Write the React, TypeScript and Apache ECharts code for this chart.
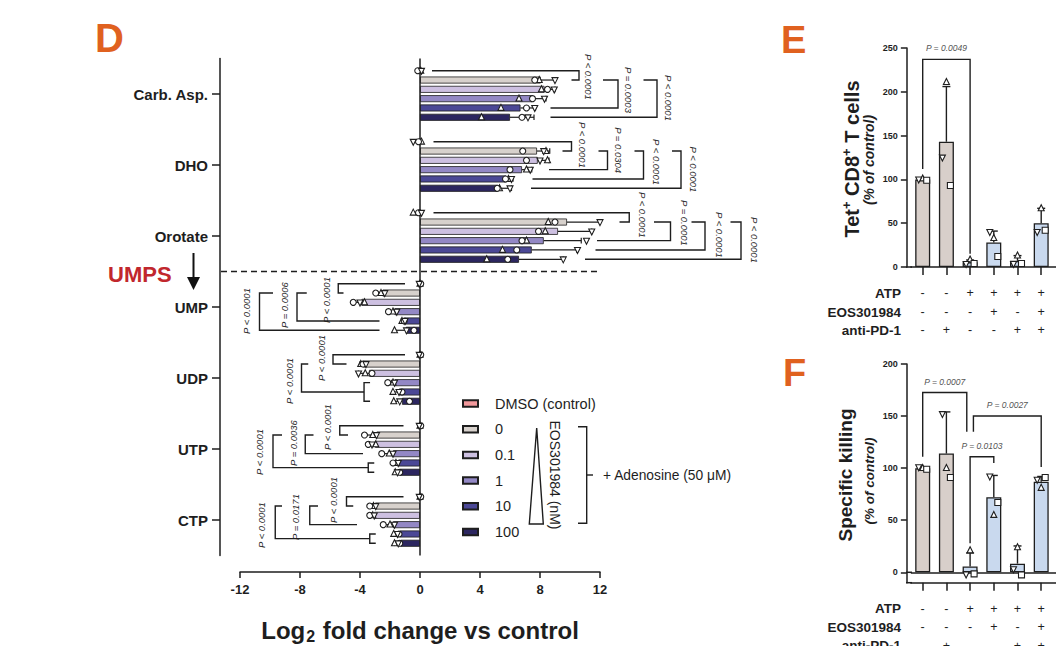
import React, { useEffect, useRef } from 'react';
import * as echarts from 'echarts';

const FONT = '"Liberation Sans", Arial, Helvetica, sans-serif';
const INK = '#1e1e1e';
const ORANGE = '#e0611f';

// ---------------- Panel D: data ----------------
const metabolites = ['Carb. Asp.', 'DHO', 'Orotate', 'UMP', 'UDP', 'UTP', 'CTP'];
const treatments = ['DMSO (control)', '0', '0.1', '1', '10', '100'];
const treatmentColors = ['#f2999c', '#d7d1cc', '#cdc0e1', '#9388c5', '#4b4896', '#2c2660'];

// mean log2 fold change (bar length), one value per metabolite
const meanDMSO = [0, 0, 0, 0, 0, 0, 0];
const mean0 = [8.05, 7.8, 9.8, -2.5, -3.8, -2.9, -3.0];
const mean01 = [8.3, 7.85, 9.2, -3.9, -3.4, -3.0, -3.05];
const mean1 = [7.5, 6.8, 8.25, -1.7, -1.7, -1.8, -1.8];
const mean10 = [6.7, 5.75, 7.45, -1.05, -1.4, -1.45, -1.35];
const mean100 = [6.0, 5.2, 6.6, -0.95, -1.2, -1.35, -1.3];

// SD (error bar length), one value per metabolite
const sdDMSO = [0, 0, 0, 0, 0, 0, 0];
const sd0 = [0.95, 0.85, 2.2, 0.45, 0.2, 0.8, 0.35];
const sd01 = [0.7, 0.75, 2.25, 0.55, 0.7, 0.45, 0.3];
const sd1 = [0.9, 0.65, 2.5, 0.4, 0.45, 0.75, 0.65];
const sd10 = [1.0, 0.45, 3.0, 0.2, 0.4, 0.35, 0.4];
const sd100 = [1.6, 0.9, 2.95, 0.75, 0.55, 0.3, 0.4];

// replicate points per treatment row: [triangle, circle, triangle-down]
const ptsCarbAsp = [[0.05, -0.15, 0.1], [7.95, 7.65, 9.0], [8.1, 8.5, 8.95], [6.6, 7.5, 8.3], [5.4, 7.1, 7.65], [4.1, 6.8, 7.2]];
const ptsDHO = [[0.1, -0.1, -0.45], [8.4, 6.85, 8.25], [8.5, 7.1, 8.0], [7.1, 6.0, 7.35], [5.9, 5.7, 6.1], [5.3, 5.15, 6.0]];
const ptsOrotate = [[-0.45, -0.1, 0.1], [8.55, 9.0, 12.0], [8.35, 7.9, 11.45], [7.1, 6.8, 11.1], [5.5, 6.45, 10.5], [4.45, 5.85, 9.55]];
const ptsUMP = [[0, 0.05, -0.05], [-2.6, -2.95, -2.35], [-3.7, -4.45, -4.0], [-1.8, -2.1, -1.55], [-1.2, -1.05, -1.0], [-1.7, -0.4, -0.9]];
const ptsUDP = [[0, 0.05, -0.05], [-3.95, -3.8, -3.6], [-3.65, -3.2, -4.1], [-1.8, -2.15, -1.7], [-1.8, -1.2, -1.4], [-1.75, -0.7, -1.35]];
const ptsUTP = [[0, 0.05, -0.05], [-3.15, -3.7, -2.9], [-2.95, -3.45, -3.2], [-2.05, -2.55, -1.8], [-1.6, -1.8, -1.45], [-1.65, -1.35, -1.5]];
const ptsCTP = [[0, 0.05, -0.05], [-3.1, -3.35, -2.95], [-3.15, -3.35, -3.05], [-2.0, -2.45, -1.7], [-1.75, -1.4, -1.5], [-1.7, -1.35, -1.45]];

const xTicksD = [-12, -8, -4, 0, 4, 8, 12];

// significance brackets:
// [metabolite, rowFrom, rowTo, lineStartFrom, lineStartTo, bracketX, labelX, labelRow, label, subFrom, subTo]
const dBrackets: any[] = [
  [0, 0, 1, 0.8, 10.1, 10.6, 11.25, 0.67, 'P < 0.0001', null, null],
  [0, 1, 4, 12.2, 8.7, 13.2, 13.9, 2.07, 'P = 0.0003', null, null],
  [0, 1, 5, 14.9, 8.7, 15.8, 16.55, 2.93, 'P < 0.0001', null, null],
  [1, 0, 1, 0.9, 9.5, 10.1, 10.8, 0.35, 'P < 0.0001', null, null],
  [1, 1, 3, 11.9, 8.6, 12.5, 13.2, 0.9, 'P = 0.0304', null, null],
  [1, 1, 4, 14.3, 7.5, 14.9, 15.75, 2.18, 'P < 0.0001', null, null],
  [1, 1, 5, 16.8, 7.4, 17.4, 18.25, 2.98, 'P < 0.0001', null, null],
  [2, 0, 1, 0.9, 13.3, 13.95, 14.85, 0.24, 'P < 0.0001', null, null],
  [2, 1, 3, 15.6, 11.8, 16.7, 17.6, 1.1, 'P = 0.0001', null, null],
  [2, 1, 4, 18.1, 11.7, 19.0, 19.95, 2.39, 'P < 0.0001', null, null],
  [2, 1, 5, 20.7, 11.0, 21.4, 22.3, 2.93, 'P < 0.0001', null, null],
  [3, 0, 1, -1.0, -5.1, -5.45, -6.25, 1.75, 'P < 0.0001', null, null],
  [3, 1, 4, -7.55, -2.7, -8.2, -9.05, 2.29, 'P = 0.0006', null, null],
  [3, 1, 5, -9.8, -2.7, -10.7, -11.55, 2.93, 'P < 0.0001', null, null],
  [4, 0, 1, -1.0, -4.9, -5.8, -6.6, 0.35, 'P < 0.0001', null, null],
  [4, 1, 4, -7.45, -3.73, -7.9, -8.7, 2.82, 'P < 0.0001', 3, 5],
  [5, 0, 1, -1.1, -4.8, -5.35, -6.2, 0.14, 'P < 0.0001', null, null],
  [5, 1, 3, -7.1, -3.8, -7.65, -8.45, 1.86, 'P = 0.0036', null, null],
  [5, 1, 5, -9.2, -3.45, -9.8, -10.7, 2.82, 'P < 0.0001', 4, 5],
  [6, 0, 1, -1.1, -4.45, -4.9, -5.8, 0.35, 'P < 0.0001', null, null],
  [6, 1, 3, -6.8, -4.2, -7.35, -8.3, 2.18, 'P = 0.0171', null, null],
  [6, 1, 5, -9.2, -3.35, -9.65, -10.6, 3.04, 'P < 0.0001', 4, 5],
];

// ---------------- Panels E / F: data ----------------
const atpRow = ['-', '-', '+', '+', '+', '+'];
const eosRow = ['-', '-', '-', '+', '-', '+'];
const pd1Row = ['-', '+', '-', '-', '+', '+'];
const efColumns = ['c1', 'c2', 'c3', 'c4', 'c5', 'c6', 'c7']; // 7th column cropped by the frame

const eMeans = [100, 143, 5.5, 28, 7, 50];
const eSD = [1.2, 63, 2.5, 13, 6, 17];
const ePoints = [[101, 100, 99], [211, 125, 93], [8.5, 3.5, 4], [33, 40, 12], [13, 3.5, 4], [67, 40, 42]];
const eTicks = [0, 50, 100, 150, 200, 250];
// [fromCol, toCol, topValue, leftEnd, rightEnd, label, leftShift, rightShift]
const eBrackets: any[] = [[0, 2, 237, 112, 15, 'P = 0.0049', 0, 0]];

const fMeans = [100, 114, 5.5, 72, 8.3, 87];
const fSD = [1.2, 40, 13, 21, 17, 5];
const fPoints = [[100, 101, 99], [100, 152, 91], [21, -2, -1.5], [55, 92, 67], [24, 3, -2.5], [81, 89, 91]];
const fTicks = [0, 50, 100, 150, 200];
const fBrackets: any[] = [
  [0, 2, 172.6, 111, 135, 'P = 0.0007', 0, -0.14],
  [2, 5, 150, 135, 101, 'P = 0.0027', 0.14, 0],
  [2, 3, 111, 28, 105, 'P = 0.0103', 0, 0],
];

// ---------------- layout constants ----------------
const BAR_W = 7;
const BAR_GAP = 0.33;
const SUB_TICK = 0.4;
const D_SHAPES = ['triangle', 'circle', 'triangle-down'];
const EF_SHAPES = ['triangle', 'triangle-down', 'square'];
const EF_JITTER = [0, -4, 4];

const meansByTreatment = [meanDMSO, mean0, mean01, mean1, mean10, mean100];
const sdsByTreatment = [sdDMSO, sd0, sd01, sd1, sd10, sd100];
const pointsByMetabolite = [ptsCarbAsp, ptsDHO, ptsOrotate, ptsUMP, ptsUDP, ptsUTP, ptsCTP];

function rowY(api: any, met: number, row: number) {
  const n = treatments.length;
  const widthSum = n * BAR_W + (n - 1) * BAR_W * BAR_GAP;
  const c = api.coord([0, met]);
  return c[1] - widthSum / 2 + row * BAR_W * (1 + BAR_GAP) + BAR_W / 2;
}

function marker(shape: string, x: number, y: number, s: number) {
  const st = { fill: '#ffffff', stroke: INK, lineWidth: 1.1 };
  if (shape === 'circle') return { type: 'circle', shape: { cx: x, cy: y, r: s / 2 }, style: st };
  if (shape === 'square') return { type: 'rect', shape: { x: x - s / 2, y: y - s / 2, width: s, height: s }, style: st };
  if (shape === 'triangle')
    return { type: 'polygon', shape: { points: [[x, y - s * 0.6], [x - s / 2, y + s * 0.4], [x + s / 2, y + s * 0.4]] }, style: st };
  return { type: 'polygon', shape: { points: [[x, y + s * 0.6], [x - s / 2, y - s * 0.4], [x + s / 2, y - s * 0.4]] }, style: st };
}

const lineSt = { stroke: INK, lineWidth: 1.4, fill: 'none', lineJoin: 'miter' };

function pText(x: number, y: number, text: string, rotation: number, size: number, color: string) {
  return {
    type: 'text',
    x,
    y,
    rotation,
    style: {
      text,
      fontFamily: FONT,
      fontSize: size,
      fontStyle: 'italic',
      fill: color,
      align: 'center',
      verticalAlign: 'middle',
    },
  };
}

function renderDPoints(params: any, api: any) {
  const idx = params.dataIndex;
  const m = Math.floor(idx / treatments.length);
  const t = idx % treatments.length;
  const mean = meansByTreatment[t][m];
  const sd = sdsByTreatment[t][m];
  const pts = pointsByMetabolite[m][t];
  const y = rowY(api, m, t);
  const X = (v: number) => api.coord([v, m])[0];
  const children: any[] = [];
  if (sd > 0) {
    const end = mean + (mean >= 0 ? sd : -sd);
    children.push({ type: 'line', shape: { x1: X(mean), y1: y, x2: X(end), y2: y }, style: { stroke: INK, lineWidth: 1.2 } });
    children.push({ type: 'line', shape: { x1: X(end), y1: y - 2.8, x2: X(end), y2: y + 2.8 }, style: { stroke: INK, lineWidth: 1.2 } });
  }
  pts.forEach((v: number, k: number) => children.push(marker(D_SHAPES[k], X(v), y, 6)));
  return { type: 'group', children };
}

function renderDBracket(params: any, api: any) {
  const [m, rA, rB, xa, xb, xv, lx, lr, text, sF, sT] = dBrackets[params.dataIndex];
  const X = (v: number) => api.coord([v, m])[0];
  const Y = (r: number) => rowY(api, m, r);
  const yA = Y(rA);
  const yB = sF != null ? Y((sF + sT) / 2) : Y(rB);
  const children: any[] = [
    { type: 'polyline', shape: { points: [[X(xa), yA], [X(xv), yA], [X(xv), yB], [X(xb), yB]] }, style: lineSt },
    pText(X(lx), Y(lr), text, xv > 0 ? -Math.PI / 2 : Math.PI / 2, 9.5, '#2a2a2a'),
  ];
  if (sF != null) {
    const dir = xv < 0 ? 1 : -1;
    children.push({
      type: 'polyline',
      shape: { points: [[X(xb + dir * SUB_TICK), Y(sF)], [X(xb), Y(sF)], [X(xb), Y(sT)], [X(xb + dir * SUB_TICK), Y(sT)]] },
      style: lineSt,
    });
  }
  return { type: 'group', children };
}

function makeEFPoints(means: number[], sds: number[], points: number[][]) {
  return (params: any, api: any) => {
    const i = params.dataIndex;
    const mean = means[i];
    const top = api.coord([i, mean + sds[i]]);
    const base = api.coord([i, mean]);
    const children: any[] = [
      { type: 'line', shape: { x1: base[0], y1: base[1], x2: top[0], y2: top[1] }, style: { stroke: INK, lineWidth: 1.4 } },
      { type: 'line', shape: { x1: top[0] - 4, y1: top[1], x2: top[0] + 4, y2: top[1] }, style: { stroke: INK, lineWidth: 1.4 } },
    ];
    points[i].forEach((v: number, k: number) => {
      const p = api.coord([i, v]);
      children.push(marker(EF_SHAPES[k], p[0] + EF_JITTER[k], p[1], 6));
    });
    return { type: 'group', children };
  };
}

function makeEFBrackets(brackets: any[]) {
  return (params: any, api: any) => {
    const [c1, c2, topV, lEnd, rEnd, text, ls, rs] = brackets[params.dataIndex];
    const band = api.size([1, 0])[0];
    const xl = api.coord([c1, topV])[0] + ls * band;
    const xr = api.coord([c2, topV])[0] + rs * band;
    const yt = api.coord([c1, topV])[1];
    const yl = api.coord([c1, lEnd])[1];
    const yr = api.coord([c2, rEnd])[1];
    return {
      type: 'group',
      children: [
        { type: 'polyline', shape: { points: [[xl, yl], [xl, yt], [xr, yt], [xr, yr]] }, style: lineSt },
        pText((xl + xr) / 2, yt - 11, text, 0, 8.5, '#555555'),
      ],
    };
  };
}

function txt(x: number, y: number, text: string, style: any, rotation = 0) {
  return {
    type: 'text',
    x,
    y,
    rotation,
    style: { text, fontFamily: FONT, fill: INK, align: 'left', verticalAlign: 'middle', ...style },
  };
}

function buildOption() {
  const axisLine = { show: true, onZero: false, lineStyle: { color: INK, width: 1.5 } };
  const tickLine = { color: INK, width: 1.5 };
  const efLabelFormatter = (_v: any, i: number) => (i < atpRow.length ? [atpRow[i], eosRow[i], pd1Row[i]].join('\n') : '');

  const efXAxis = (gridIndex: number) => ({
    gridIndex,
    type: 'category',
    data: efColumns,
    axisLine,
    axisTick: { show: true, alignWithLabel: true, length: 8, interval: 0, lineStyle: tickLine },
    axisLabel: { interval: 0, formatter: efLabelFormatter, fontFamily: FONT, fontSize: 12.5, lineHeight: 18.7, color: INK, margin: 16.6 },
    splitLine: { show: false },
  });

  const efBarColor = (i: number) => (atpRow[i] === '+' ? '#c9d9ee' : '#d8cfca');

  const dBarSeries = treatments.map((name, t) => ({
    name,
    type: 'bar',
    xAxisIndex: 0,
    yAxisIndex: 0,
    data: meansByTreatment[t],
    barWidth: BAR_W,
    barGap: `${BAR_GAP * 100}%`,
    itemStyle: { color: treatmentColors[t], borderColor: INK, borderWidth: 0.8 },
    z: 2,
    ...(t === 0
      ? {
          markLine: {
            silent: true,
            symbol: ['none', 'none'],
            label: { show: false },
            lineStyle: { color: INK, width: 1.5, type: 'solid' },
            data: [{ xAxis: 0 }],
          },
        }
      : {}),
  }));

  const dPointData: any[] = [];
  metabolites.forEach((_, m) => treatments.forEach((__, t) => dPointData.push([meansByTreatment[t][m], m])));

  const graphic: any[] = [
    txt(95, 38, 'D', { fontSize: 40, fontWeight: 'bold', fill: ORANGE }),
    txt(781, 40, 'E', { fontSize: 38, fontWeight: 'bold', fill: ORANGE }),
    txt(783, 373, 'F', { fontSize: 38, fontWeight: 'bold', fill: ORANGE }),
    txt(108, 274, 'UMPS', { fontSize: 22, fontWeight: 'bold', fill: '#c1272d' }),
    { type: 'line', shape: { x1: 193.5, y1: 253, x2: 193.5, y2: 279 }, style: { stroke: '#111', lineWidth: 2 } },
    { type: 'polygon', shape: { points: [[187, 277], [200, 277], [193.5, 290]] }, style: { fill: '#111' } },
    { type: 'line', shape: { x1: 221, y1: 271.5, x2: 601, y2: 271.5 }, style: { stroke: INK, lineWidth: 1.5, lineDash: [6, 4] } },
    {
      type: 'text',
      x: 420,
      y: 630,
      style: {
        text: '{a|Log}{s|2}{a| fold change vs control}',
        fontFamily: FONT,
        fill: INK,
        align: 'center',
        verticalAlign: 'middle',
        rich: {
          a: { fontSize: 24, fontWeight: 'bold', fill: INK, color: INK, fontFamily: FONT },
          s: { fontSize: 16, fontWeight: 'bold', fill: INK, color: INK, fontFamily: FONT, padding: [13, 1, 0, 1] },
        },
      },
    },
    // legend annotation: wedge, bracket, texts
    { type: 'polygon', shape: { points: [[536.7, 428], [529.3, 524], [543.3, 524]] }, style: { fill: 'none', stroke: INK, lineWidth: 1.4 } },
    txt(555, 475, 'EOS301984 (nM)', { fontSize: 14, align: 'center' }, -Math.PI / 2),
    {
      type: 'polyline',
      shape: { points: [[578, 426.7], [586.7, 426.7], [586.7, 523.3], [578, 523.3]] },
      style: { stroke: INK, lineWidth: 1.4, fill: 'none' },
    },
    { type: 'line', shape: { x1: 586.7, y1: 475, x2: 593, y2: 475 }, style: { stroke: INK, lineWidth: 1.4 } },
    txt(603, 475, '+ Adenosine (50 μM)', { fontSize: 13.8 }),
    // E / F axis titles
    {
      type: 'text',
      x: 851.5,
      y: 159,
      rotation: Math.PI / 2,
      style: {
        text: '{b|Tet}{s|+}{b| CD8}{s|+}{b| T cells}',
        fontFamily: FONT,
        fill: INK,
        align: 'center',
        verticalAlign: 'middle',
        rich: {
          b: { fontSize: 20, fontWeight: 'bold', fill: INK, color: INK, fontFamily: FONT },
          s: { fontSize: 13, fontWeight: 'bold', fill: INK, color: INK, fontFamily: FONT, padding: [0, 0, 11, 0] },
        },
      },
    },
    txt(869, 160, '(% of control)', { fontSize: 14, fontWeight: 'bold', fontStyle: 'italic', align: 'center' }, Math.PI / 2),
    txt(845, 475, 'Specific killing', { fontSize: 19, fontWeight: 'bold', align: 'center' }, Math.PI / 2),
    txt(869, 481, '(% of control)', { fontSize: 13.5, fontWeight: 'bold', fontStyle: 'italic', align: 'center' }, Math.PI / 2),
    // corner patches joining offset y-axis with x-axis / zero line
    { type: 'line', shape: { x1: 906, y1: 267, x2: 912, y2: 267 }, style: { stroke: INK, lineWidth: 1.5 } },
    { type: 'line', shape: { x1: 906, y1: 582.7, x2: 912, y2: 582.7 }, style: { stroke: INK, lineWidth: 1.5 } },
    { type: 'line', shape: { x1: 906, y1: 572.3, x2: 912, y2: 572.3 }, style: { stroke: INK, lineWidth: 1.5 } },
  ];
  const rowNames = ['ATP', 'EOS301984', 'anti-PD-1'];
  [293.3, 608.3].forEach((y0) =>
    rowNames.forEach((n, k) => graphic.push(txt(901, y0 + k * 18.7, n, { fontSize: 13.5, fontWeight: 'bold', align: 'right' })))
  );

  return {
    animation: false,
    backgroundColor: '#ffffff',
    textStyle: { fontFamily: FONT },
    legend: {
      data: treatments,
      orient: 'vertical',
      left: 457,
      top: 391,
      icon: 'rect',
      itemWidth: 15,
      itemHeight: 6.5,
      itemGap: 10.7,
      selectedMode: false,
      textStyle: { fontFamily: FONT, fontSize: 14.5, color: INK, lineHeight: 14, padding: [0, 0, 0, 12] },
    },
    grid: [
      { left: 240, top: 58.5, width: 360, height: 497, containLabel: false, outerBoundsMode: 'none' },
      { left: 910.85, top: 48, width: 165.9, height: 219, containLabel: false, outerBoundsMode: 'none' },
      { left: 910.85, top: 364, width: 165.9, height: 218.7, containLabel: false, outerBoundsMode: 'none' },
    ],
    xAxis: [
      {
        gridIndex: 0,
        type: 'value',
        min: xTicksD[0],
        max: xTicksD[xTicksD.length - 1],
        interval: 4,
        offset: 16.5,
        axisLine,
        axisTick: { show: true, length: 6, lineStyle: tickLine },
        axisLabel: { fontFamily: FONT, fontSize: 13, fontWeight: 'bold', color: INK, margin: 11 },
        splitLine: { show: false },
      },
      efXAxis(1),
      efXAxis(2),
    ],
    yAxis: [
      {
        gridIndex: 0,
        type: 'category',
        data: metabolites,
        inverse: true,
        offset: 20,
        axisLine,
        axisTick: { show: true, alignWithLabel: true, length: 8, interval: 0, lineStyle: tickLine },
        axisLabel: { interval: 0, fontFamily: FONT, fontSize: 15, fontWeight: 'bold', color: INK, margin: 12 },
        splitLine: { show: false },
      },
      {
        gridIndex: 1,
        type: 'value',
        min: eTicks[0],
        max: eTicks[eTicks.length - 1],
        interval: 50,
        offset: 4,
        axisLine,
        axisTick: { show: true, length: 6, lineStyle: tickLine },
        axisLabel: { fontFamily: FONT, fontSize: 9, fontWeight: 'bold', color: INK, margin: 9 },
        splitLine: { show: false },
      },
      {
        gridIndex: 2,
        type: 'value',
        min: -10,
        max: fTicks[fTicks.length - 1],
        offset: 4,
        axisLine,
        axisTick: { show: true, length: 6, lineStyle: tickLine, customValues: fTicks },
        axisLabel: { fontFamily: FONT, fontSize: 9, fontWeight: 'bold', color: INK, margin: 9, customValues: fTicks },
        splitLine: { show: false },
      },
    ],
    series: [
      ...dBarSeries,
      {
        type: 'custom',
        xAxisIndex: 0,
        yAxisIndex: 0,
        clip: false,
        z: 5,
        encode: { x: 0, y: 1 },
        data: dPointData,
        renderItem: renderDPoints,
      },
      {
        type: 'custom',
        xAxisIndex: 0,
        yAxisIndex: 0,
        clip: false,
        z: 4,
        encode: { x: 0, y: 1 },
        data: dBrackets.map((b) => [b[5], b[0]]),
        renderItem: renderDBracket,
      },
      {
        type: 'bar',
        xAxisIndex: 1,
        yAxisIndex: 1,
        barWidth: 15,
        data: eMeans.map((v, i) => ({ value: v, itemStyle: { color: efBarColor(i) } })),
        itemStyle: { borderColor: INK, borderWidth: 1.3 },
        z: 2,
      },
      {
        type: 'custom',
        xAxisIndex: 1,
        yAxisIndex: 1,
        clip: false,
        z: 5,
        encode: { x: 0, y: 1 },
        data: eMeans.map((v, i) => [i, v]),
        renderItem: makeEFPoints(eMeans, eSD, ePoints),
      },
      {
        type: 'custom',
        xAxisIndex: 1,
        yAxisIndex: 1,
        clip: false,
        z: 4,
        encode: { x: 0, y: 1 },
        data: eBrackets.map((b) => [b[0], b[2]]),
        renderItem: makeEFBrackets(eBrackets),
      },
      {
        type: 'bar',
        xAxisIndex: 2,
        yAxisIndex: 2,
        barWidth: 15,
        data: fMeans.map((v, i) => ({ value: v, itemStyle: { color: efBarColor(i) } })),
        itemStyle: { borderColor: INK, borderWidth: 1.3 },
        z: 2,
        markLine: {
          silent: true,
          symbol: ['none', 'none'],
          label: { show: false },
          lineStyle: { color: INK, width: 1.5, type: 'solid' },
          data: [{ yAxis: 0 }],
        },
      },
      {
        type: 'custom',
        xAxisIndex: 2,
        yAxisIndex: 2,
        clip: false,
        z: 5,
        encode: { x: 0, y: 1 },
        data: fMeans.map((v, i) => [i, v]),
        renderItem: makeEFPoints(fMeans, fSD, fPoints),
      },
      {
        type: 'custom',
        xAxisIndex: 2,
        yAxisIndex: 2,
        clip: false,
        z: 4,
        encode: { x: 0, y: 1 },
        data: fBrackets.map((b) => [b[0], b[2]]),
        renderItem: makeEFBrackets(fBrackets),
      },
    ],
    graphic: { elements: graphic },
  };
}

export default function App() {
  const ref = useRef<HTMLDivElement>(null);
  useEffect(() => {
    if (!ref.current) return;
    const chart = echarts.init(ref.current, null, { renderer: 'svg' });
    chart.setOption(buildOption() as any);
    return () => chart.dispose();
  }, []);
  return (
    <div
      ref={ref}
      style={{ position: 'fixed', left: 0, top: 0, width: 1056, height: 646, background: '#ffffff' }}
    />
  );
}
